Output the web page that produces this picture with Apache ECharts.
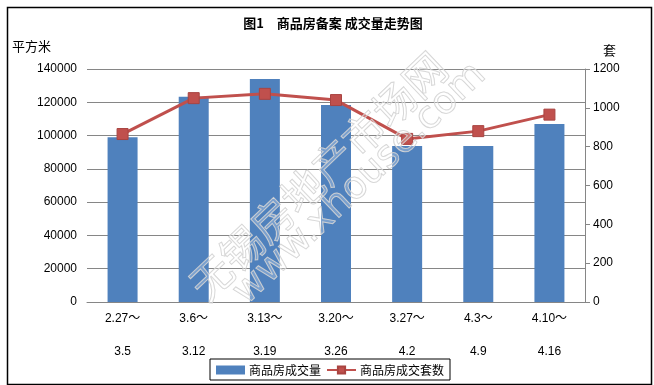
<!DOCTYPE html>
<html>
<head>
<meta charset="utf-8">
<script src="https://cdn.jsdelivr.net/npm/echarts@6/dist/echarts.min.js"></script>
<style>html,body{margin:0;padding:0;background:#fff}#c{width:654px;height:385px}</style>
</head>
<body>
<div id="c"></div>
<script>
var categories = ['2.27～\n3.5', '3.6～\n3.12', '3.13～\n3.19', '3.20～\n3.26', '3.27～\n4.2', '4.3～\n4.9', '4.10～\n4.16'];
var areaValues = [99000, 123300, 134000, 118400, 93800, 93800, 107000];
var unitValues = [865, 1050, 1072, 1040, 840, 880, 965];
var leftTicks = {min: 0, max: 140000, interval: 20000};
var rightTicks = {min: 0, max: 1200, interval: 200};

var FONT = "'Liberation Sans', 'Noto Sans CJK SC', sans-serif";
var plain = function (v) { return String(v); };
var chart = echarts.init(document.getElementById('c'), null, {renderer: 'canvas'});
chart.setOption({
  animation: false,
  backgroundColor: '#fff',
  textStyle: {fontFamily: FONT},
  title: {
    text: '图1　商品房备案 成交量走势图',
    left: 328, top: 12, textAlign: 'center',
    textStyle: {fontSize: 13, fontWeight: 'bold', color: '#000', fontFamily: "'Noto Sans CJK SC', sans-serif"}
  },
  grid: {left: 87, right: 69, top: 69, bottom: 83, containLabel: false},
  legend: {
    left: 210, top: 359, width: 240,
    padding: [5, 6, 4, 6],
    itemGap: 5,
    itemWidth: 29, itemHeight: 9,
    borderColor: '#000', borderWidth: 1,
    textStyle: {fontSize: 12, color: '#000', fontFamily: "'Noto Sans CJK SC', sans-serif", padding: [0, 0, 0, -1]},
    data: [{name: '商品房成交量', icon: 'rect'}, {name: '商品房成交套数'}]
  },
  xAxis: {
    type: 'category',
    data: categories,
    axisLine: {show: true, lineStyle: {color: '#868686', width: 1}},
    axisTick: {show: false},
    axisLabel: {interval: 0, margin: 0, fontSize: 12, lineHeight: 33, color: '#000', fontFamily: FONT}
  },
  yAxis: [{
    type: 'value', min: leftTicks.min, max: leftTicks.max, interval: leftTicks.interval,
    axisLine: {show: false}, axisTick: {show: false},
    axisLabel: {fontSize: 12, color: '#000', margin: 10, fontFamily: FONT, formatter: plain},
    splitLine: {show: true, lineStyle: {color: '#868686', width: 1}}
  }, {
    type: 'value', min: rightTicks.min, max: rightTicks.max, interval: rightTicks.interval,
    position: 'right',
    axisLine: {show: true, lineStyle: {color: '#868686', width: 1}},
    axisTick: {show: true, length: 5, lineStyle: {color: '#868686'}},
    axisLabel: {fontSize: 12, color: '#000', margin: 8, fontFamily: FONT, formatter: plain},
    splitLine: {show: false}
  }],
  series: [{
    name: '商品房成交量', type: 'bar', yAxisIndex: 0,
    data: areaValues, barWidth: 30,
    itemStyle: {color: '#4F81BD'}
  }, {
    name: '商品房成交套数', type: 'line', yAxisIndex: 1,
    data: unitValues,
    symbol: 'rect', symbolSize: 11,
    lineStyle: {color: '#C0504D', width: 3},
    itemStyle: {color: '#C0504D', borderColor: '#A94441', borderWidth: 1}
  }],
  graphic: [
    {type: 'rect', left: 5, top: 5, shape: {width: 644, height: 377}, style: {fill: 'none', stroke: '#000', lineWidth: 1.5}, silent: true, z: 0},
    {type: 'text', left: 12, top: 40, style: {text: '平方米', font: "13px 'Noto Sans CJK SC'", fill: '#000'}},
    {type: 'text', left: 603, top: 44, style: {text: '套', font: "13px 'Noto Sans CJK SC'", fill: '#000'}},
    {type: 'text', x: 318, y: 176, rotation: 0.76, z: 100, silent: true,
      style: {text: '无锡房地产市场网', font: "42px 'Noto Sans CJK SC'", align: 'center', verticalAlign: 'middle',
        fill: 'rgba(255,255,255,0.25)', stroke: 'rgba(205,205,205,0.9)', lineWidth: 1}},
    {type: 'text', x: 360, y: 184, rotation: 0.76, z: 100, silent: true,
      style: {text: 'www.xhouse.com', font: "38px 'DejaVu Sans'", align: 'center', verticalAlign: 'middle',
        fill: 'rgba(255,255,255,0.25)', stroke: 'rgba(205,205,205,0.9)', lineWidth: 1}}
  ]
});
</script>
</body>
</html>
